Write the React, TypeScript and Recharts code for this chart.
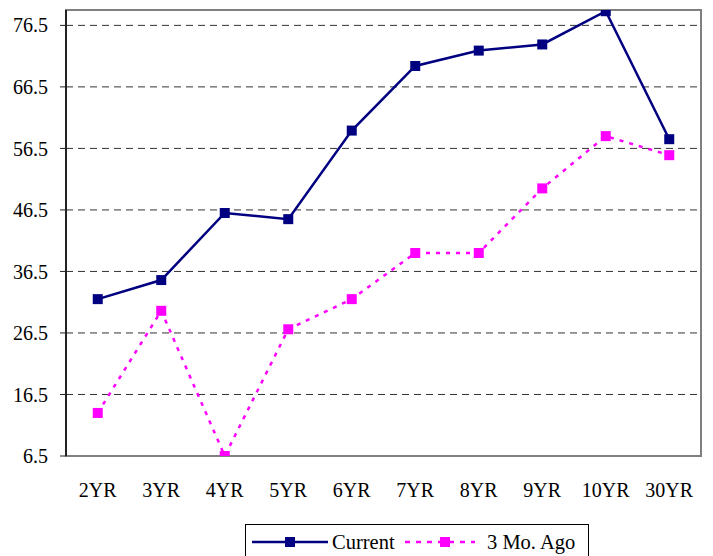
import React from "react";
import {
  LineChart,
  Line,
  XAxis,
  YAxis,
  CartesianGrid,
  usePlotArea,
} from "recharts";

const maturities = ["2YR", "3YR", "4YR", "5YR", "6YR", "7YR", "8YR", "9YR", "10YR", "30YR"];
const current = [32.0, 35.1, 46.0, 45.0, 59.4, 69.9, 72.4, 73.4, 78.8, 58.0];
const threeMoAgo = [13.5, 30.1, 6.5, 27.1, 32.0, 39.5, 39.5, 50.0, 58.5, 55.4];
const yTicks = [6.5, 16.5, 26.5, 36.5, 46.5, 56.5, 66.5, 76.5];

const data = maturities.map((m, i) => ({
  name: m,
  current: current[i],
  ago: threeMoAgo[i],
}));

const font = "Liberation Serif, Times New Roman, DejaVu Serif, serif";

const SquareDot = (color: string) => (props: any) => {
  const { cx, cy, index } = props;
  if (cx == null || cy == null) return null;
  return <rect key={index} x={cx - 5} y={cy - 5} width={10} height={10} fill={color} />;
};

// gray frame round the plot area, like the Excel original
const PlotFrame = () => {
  const area = usePlotArea();
  if (!area) return null;
  return (
    <rect
      x={area.x}
      y={area.y}
      width={area.width}
      height={area.height}
      fill="none"
      stroke="#808080"
      strokeWidth={2}
    />
  );
};

export default function App() {
  return (
    <div style={{ position: "absolute", left: 0, top: 0, width: 713, height: 556, background: "#fff", fontFamily: font }}>
      <LineChart
        width={713}
        height={556}
        data={data}
        margin={{ top: 10, right: 12, bottom: 0, left: 0 }}
      >
        <CartesianGrid vertical={false} stroke="#333" strokeDasharray="7 5" />
        <PlotFrame />
        <XAxis
          dataKey="name"
          padding={{ left: 31.75, right: 31.75 }}
          height={100}
          tickLine={false}
          tickSize={0}
          tickMargin={27}
          axisLine={{ stroke: "#808080", strokeWidth: 2 }}
          tick={{ fill: "#000", fontSize: 20, fontFamily: font }}
          interval={0}
        />
        <YAxis
          domain={[6.5, 79]}
          ticks={yTicks}
          width={66}
          tickSize={6}
          tickMargin={12}
          axisLine={{ stroke: "#222", strokeWidth: 2 }}
          tickLine={{ stroke: "#222" }}
          tick={{ fill: "#000", fontSize: 20, fontFamily: font }}
          tickFormatter={(v: number) => v.toFixed(1)}
          allowDataOverflow
        />
        <Line
          dataKey="current"
          stroke="#000080"
          strokeWidth={2.5}
          dot={SquareDot("#000080")}
          activeDot={false}
          isAnimationActive={false}
        />
        <Line
          dataKey="ago"
          stroke="#FF00FF"
          strokeWidth={2.5}
          strokeDasharray="4 6"
          dot={SquareDot("#FF00FF")}
          activeDot={false}
          isAnimationActive={false}
        />
      </LineChart>
      <div
        style={{
          position: "absolute",
          left: 245,
          top: 524,
          width: 344,
          height: 40,
          border: "1px solid #000",
          fontFamily: font,
          fontSize: 20.5,
          color: "#000",
          boxSizing: "border-box",
        }}
      >
        <svg width={76} height={20} style={{ position: "absolute", left: 6, top: 7 }}>
          <line x1={0} y1={10} x2={76} y2={10} stroke="#000080" strokeWidth={2.5} />
          <rect x={33} y={5} width={10} height={10} fill="#000080" />
        </svg>
        <span style={{ position: "absolute", left: 86, top: 5, lineHeight: "24px" }}>Current</span>
        <svg width={70} height={20} style={{ position: "absolute", left: 159, top: 7 }}>
          <line x1={0} y1={10} x2={70} y2={10} stroke="#FF00FF" strokeWidth={2.5} strokeDasharray="5 6" />
          <rect x={35} y={5} width={10} height={10} fill="#FF00FF" />
        </svg>
        <span style={{ position: "absolute", left: 241, top: 5, lineHeight: "24px", whiteSpace: "nowrap" }}>3 Mo. Ago</span>
      </div>
    </div>
  );
}
